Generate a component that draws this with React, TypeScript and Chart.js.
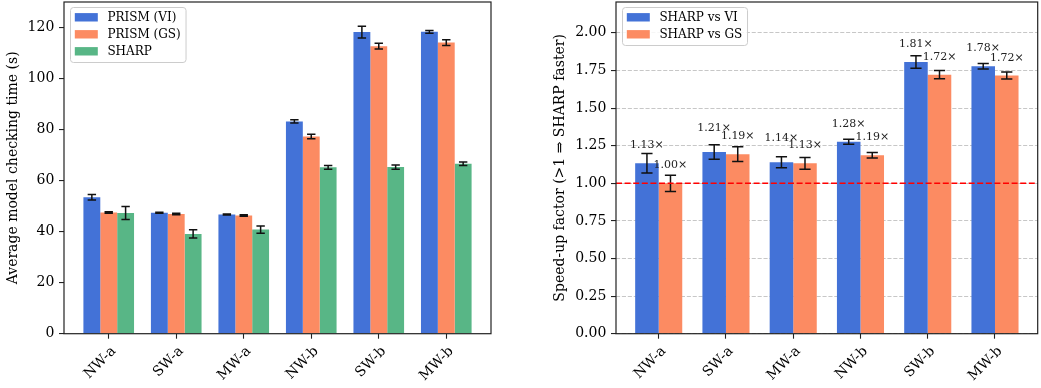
import React, { useEffect, useRef } from 'react';
import { Chart, registerables } from 'chart.js';

Chart.register(...registerables);

// ---------- data ----------
const categories = ['NW-a', 'SW-a', 'MW-a', 'NW-b', 'SW-b', 'MW-b'];

const prismVI = [53.5, 47.4, 46.7, 83.2, 118.2, 118.3];
const prismVIErr = [1.1, 0.2, 0.2, 0.65, 2.3, 0.5];
const prismGS = [47.5, 46.9, 46.3, 77.3, 112.7, 114.1];
const prismGSErr = [0.3, 0.3, 0.3, 0.85, 1.1, 1.1];
const sharp = [47.3, 39.1, 40.8, 65.2, 65.3, 66.6];
const sharpErr = [2.55, 1.6, 1.4, 0.7, 0.85, 0.65];
const timeTicks = [0, 20, 40, 60, 80, 100, 120];

const speedVI = [1.133, 1.208, 1.14, 1.276, 1.806, 1.778];
const speedVIErr = [0.065, 0.048, 0.037, 0.017, 0.041, 0.018];
const speedGS = [1.0, 1.193, 1.133, 1.186, 1.722, 1.716];
const speedGSErr = [0.054, 0.049, 0.039, 0.018, 0.027, 0.023];
const speedTicks = [0, 0.25, 0.5, 0.75, 1.0, 1.25, 1.5, 1.75, 2.0];
const parityValue = 1.0;

// ---------- styles ----------
const FONT = "'DejaVu Serif', serif";
const BLUE = '#4372D7';
const ORANGE = '#FC8B62';
const GREEN = '#58B686';

const toXY = (arr: number[]) => arr.map((v, i) => ({ x: i, y: v }));

const zeroPad = (s: any) => {
  s.paddingTop = 0;
  s.paddingBottom = 0;
  s.paddingLeft = 0;
  s.paddingRight = 0;
};

const framePlugin = {
  id: 'frame',
  afterDatasetsDraw(chart: any) {
    const { ctx, chartArea: a } = chart;
    ctx.save();
    ctx.strokeStyle = '#222';
    ctx.lineWidth = 1.2;
    ctx.strokeRect(a.left, a.top, a.right - a.left, a.bottom - a.top);
    ctx.restore();
  },
};

const errorBarPlugin = {
  id: 'errorBars',
  afterDatasetsDraw(chart: any, _args: any, opts: any) {
    const { ctx } = chart;
    const ys = chart.scales.y;
    const cap = opts.cap ?? 4;
    chart.data.datasets.forEach((ds: any, di: number) => {
      if (!ds.errors) return;
      const meta = chart.getDatasetMeta(di);
      meta.data.forEach((bar: any, i: number) => {
        const v = ds.data[i].y;
        const e = ds.errors[i];
        const yt = ys.getPixelForValue(v + e);
        const yb = ys.getPixelForValue(v - e);
        ctx.save();
        ctx.strokeStyle = '#111';
        ctx.lineWidth = 1.5;
        ctx.beginPath();
        ctx.moveTo(bar.x, yt);
        ctx.lineTo(bar.x, yb);
        ctx.moveTo(bar.x - cap, yt);
        ctx.lineTo(bar.x + cap, yt);
        ctx.moveTo(bar.x - cap, yb);
        ctx.lineTo(bar.x + cap, yb);
        ctx.stroke();
        ctx.restore();
      });
    });
  },
};

const legendPlugin = {
  id: 'boxLegend',
  afterDraw(chart: any) {
    const { ctx, chartArea: a } = chart;
    const ds = chart.data.datasets;
    ctx.save();
    ctx.font = `12px ${FONT}`;
    let maxW = 0;
    ds.forEach((d: any) => {
      maxW = Math.max(maxW, ctx.measureText(d.label).width);
    });
    const bx = a.left + 6;
    const by = a.top + 5;
    const bw = 4.8 + 23 + 9.6 + maxW + 4.8;
    const bh = ds.length * 17 + 4;
    ctx.beginPath();
    (ctx as any).roundRect(bx + 0.5, by + 0.5, bw, bh, 3);
    ctx.fillStyle = 'rgba(255,255,255,0.85)';
    ctx.fill();
    ctx.strokeStyle = '#cccccc';
    ctx.lineWidth = 1;
    ctx.stroke();
    ds.forEach((d: any, i: number) => {
      const cy = by + 10.3 + i * 17;
      ctx.fillStyle = d.backgroundColor;
      ctx.fillRect(bx + 4.8, cy - 4.2, 23, 8.4);
      ctx.fillStyle = '#000';
      ctx.textBaseline = 'middle';
      ctx.textAlign = 'left';
      ctx.fillText(d.label, bx + 4.8 + 23 + 9.6, cy + 0.5);
    });
    ctx.restore();
  },
};

const parityPlugin = {
  id: 'parity',
  afterDatasetsDraw(chart: any, _a: any, opts: any) {
    const { ctx, chartArea: a } = chart;
    const y = chart.scales.y.getPixelForValue(opts.value);
    ctx.save();
    ctx.strokeStyle = '#ff0000';
    ctx.lineWidth = 1.6;
    ctx.setLineDash([6, 2.6]);
    ctx.beginPath();
    ctx.moveTo(a.left, y);
    ctx.lineTo(a.right, y);
    ctx.stroke();
    ctx.restore();
  },
};

const annotatePlugin = {
  id: 'speedLabels',
  afterDatasetsDraw(chart: any) {
    const { ctx } = chart;
    const ys = chart.scales.y;
    const d0 = chart.data.datasets[0].data;
    const d1 = chart.data.datasets[1].data;
    ctx.save();
    ctx.font = `11px ${FONT}`;
    ctx.fillStyle = '#222';
    ctx.textAlign = 'center';
    ctx.textBaseline = 'alphabetic';
    chart.data.datasets.forEach((ds: any, di: number) => {
      const meta = chart.getDatasetMeta(di);
      meta.data.forEach((bar: any, i: number) => {
        const v = ds.data[i].y;
        let off = 0.1;
        if (di === 0 && Math.abs(d0[i].y - d1[i].y) < 0.05) off = 0.14;
        const y = ys.getPixelForValue(v + off);
        ctx.fillText(v.toFixed(2) + '\u00d7', bar.x, y);
      });
    });
    ctx.restore();
  },
};

function xScale(min: number, max: number) {
  return {
    type: 'linear' as const,
    min,
    max,
    offset: false,
    afterBuildTicks: (s: any) => {
      s.ticks = categories.map((_, i) => ({ value: i }));
    },
    afterFit: (s: any) => {
      s.height = 54.3;
      zeroPad(s);
    },
    ticks: {
      autoSkip: false,
      minRotation: 45,
      maxRotation: 45,
      padding: 4.5,
      labelOffset: 5,
      color: '#000',
      font: { family: FONT, size: 14 },
      callback: (v: any) => categories[v] ?? '',
    },
    grid: {
      display: true,
      offset: false,
      drawOnChartArea: false,
      tickLength: 5,
      tickColor: '#222',
      tickWidth: 1.1,
    },
    border: { display: false },
  };
}

function yScale(
  min: number,
  max: number,
  ticks: number[],
  width: number,
  title: string,
  titlePad: number,
  grid: boolean,
  digits: number
) {
  return {
    type: 'linear' as const,
    min,
    max,
    afterBuildTicks: (s: any) => {
      s.ticks = ticks.map((v) => ({ value: v }));
    },
    afterFit: (s: any) => {
      s.width = width;
      zeroPad(s);
    },
    ticks: {
      padding: 4.7,
      color: '#000',
      font: { family: FONT, size: 14 },
      callback: (v: any) => Number(v).toFixed(digits),
    },
    grid: {
      display: true,
      drawOnChartArea: grid,
      color: 'rgba(180,180,180,0.75)',
      lineWidth: 1.1,
      tickLength: 5,
      tickColor: '#222',
      tickWidth: 1.1,
    },
    border: { display: false, dash: [4.1, 1.8] },
    title: {
      display: true,
      text: title,
      color: '#000',
      font: { family: FONT, size: 14 },
      padding: { top: titlePad, bottom: 0 },
    },
  };
}

export default function App() {
  const leftRef = useRef<HTMLCanvasElement>(null);
  const rightRef = useRef<HTMLCanvasElement>(null);

  useEffect(() => {
    document.body.style.margin = '0';
    const left = new Chart(leftRef.current!, {
      type: 'bar',
      data: {
        datasets: [
          { label: 'PRISM (VI)', data: toXY(prismVI), errors: prismVIErr, backgroundColor: BLUE } as any,
          { label: 'PRISM (GS)', data: toXY(prismGS), errors: prismGSErr, backgroundColor: ORANGE } as any,
          { label: 'SHARP', data: toXY(sharp), errors: sharpErr, backgroundColor: GREEN } as any,
        ],
      },
      options: {
        responsive: false,
        animation: false,
        devicePixelRatio: 1,
        layout: { padding: { top: 2, right: 29, left: 0, bottom: 0 } },
        datasets: { bar: { categoryPercentage: 0.75, barPercentage: 1.0 } },
        scales: {
          x: xScale(-0.6625, 5.6625),
          y: yScale(0, 130, timeTicks, 64, 'Average model checking time (s)', 4.6, false, 0),
        } as any,
        plugins: {
          legend: { display: false },
          tooltip: { enabled: false },
          errorBars: { cap: 4.2 },
        } as any,
      },
      plugins: [errorBarPlugin, framePlugin, legendPlugin],
    });

    const right = new Chart(rightRef.current!, {
      type: 'bar',
      data: {
        datasets: [
          { label: 'SHARP vs VI', data: toXY(speedVI), errors: speedVIErr, backgroundColor: BLUE } as any,
          { label: 'SHARP vs GS', data: toXY(speedGS), errors: speedGSErr, backgroundColor: ORANGE } as any,
        ],
      },
      options: {
        responsive: false,
        animation: false,
        devicePixelRatio: 1,
        layout: { padding: { top: 2, right: 3.3, left: 0, bottom: 0 } },
        datasets: { bar: { categoryPercentage: 0.7, barPercentage: 1.0 } },
        scales: {
          x: xScale(-0.635, 5.635),
          y: yScale(0, 2.205, speedTicks, 96, 'Speed-up factor (>1 \u21d2 SHARP faster)', 31.6, true, 2),
        } as any,
        plugins: {
          legend: { display: false },
          tooltip: { enabled: false },
          errorBars: { cap: 5.6 },
          parity: { value: parityValue },
        } as any,
      },
      plugins: [errorBarPlugin, parityPlugin, framePlugin, annotatePlugin, legendPlugin],
    });

    return () => {
      left.destroy();
      right.destroy();
    };
  }, []);

  return (
    <div style={{ position: 'absolute', left: 0, top: 0, width: 1041, height: 388, background: '#fff' }}>
      <canvas
        ref={leftRef}
        width={520}
        height={388}
        style={{ position: 'absolute', left: 0, top: 0, width: 520, height: 388 }}
      />
      <canvas
        ref={rightRef}
        width={521}
        height={388}
        style={{ position: 'absolute', left: 520, top: 0, width: 521, height: 388 }}
      />
    </div>
  );
}
